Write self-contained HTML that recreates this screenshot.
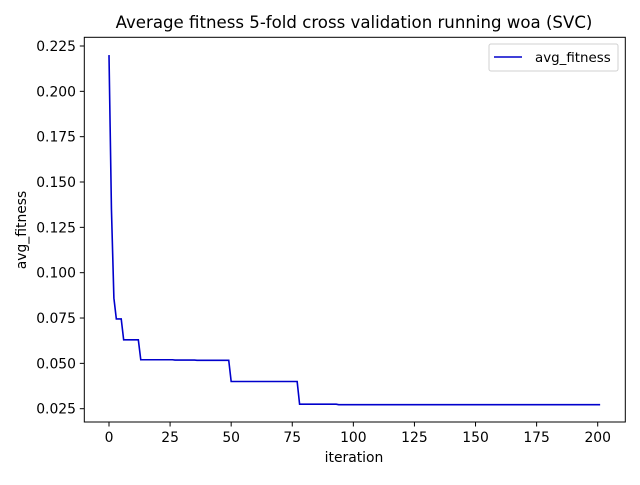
<!DOCTYPE html>
<html><head><meta charset="utf-8"><style>
body{margin:0;background:#fff}
svg{font-family:"DejaVu Sans","Liberation Sans",sans-serif}
</style></head><body>
<svg id="chart" width="640" height="480" viewBox="0 0 640 480">
<rect width="640" height="480" fill="#fff"/>
<text x="354" y="28" font-size="16.6" text-anchor="middle" fill="#000">Average fitness 5-fold cross validation running woa (SVC)</text>
<g id="xticks"></g>
<g id="yticks"></g>
<path id="line" fill="none" stroke="#0000cc" stroke-width="1.6"/>
<rect x="84.3" y="37.3" width="541" height="384.7" fill="none" stroke="#000" stroke-width="1"/>
<text x="354" y="462" font-size="13.9" text-anchor="middle">iteration</text>
<text transform="translate(26,230) rotate(-90)" font-size="13.9" text-anchor="middle">avg_fitness</text>
<g>
<rect x="489" y="44" width="129" height="27" rx="2" fill="#fff" stroke="#d0d0d0"/>
<line x1="494" y1="57" x2="522" y2="57" stroke="#0000cc" stroke-width="1.6"/>
<text x="535" y="62" font-size="13.4">avg_fitness</text>
</g>
</svg>
<script>
const xTickValues=[0,25,50,75,100,125,150,175,200];
const yTickValues=[0.025,0.050,0.075,0.100,0.125,0.150,0.175,0.200,0.225];
const yTickLabels=["0.025","0.050","0.075","0.100","0.125","0.150","0.175","0.200","0.225"];
const stepValues=[0.22,0.135,0.086,0.0745,0.063,0.052,0.0518,0.0517,0.040,0.0275,0.0272];
const stepLengths=[1,1,1,3,7,14,9,14,28,16,108];
function sx(v){return 109+v*2.4435;}
function sy(v){return 46+(0.225-v)*1813.5;}
const ns="http://www.w3.org/2000/svg";
const xg=document.getElementById('xticks'),yg=document.getElementById('yticks');
xTickValues.forEach(v=>{
 const l=document.createElementNS(ns,'line');
 l.setAttribute('x1',sx(v));l.setAttribute('x2',sx(v));l.setAttribute('y1',422);l.setAttribute('y2',426.5);l.setAttribute('stroke','#000');
 
 
 xg.appendChild(l);
 const t=document.createElementNS(ns,'text');
 t.setAttribute('x',sx(v));t.setAttribute('y',442);t.setAttribute('font-size','13.9');t.setAttribute('text-anchor','middle');t.textContent=v;
 
 
 xg.appendChild(t);
});
yTickValues.forEach((v,i)=>{
 const l=document.createElementNS(ns,'line');
 l.setAttribute('x1',79.8);l.setAttribute('x2',84.3);l.setAttribute('y1',sy(v));l.setAttribute('y2',sy(v));l.setAttribute('stroke','#000');
 
 
 yg.appendChild(l);
 const t=document.createElementNS(ns,'text');
 t.setAttribute('x',76);t.setAttribute('y',sy(v)+5);t.setAttribute('font-size','13.9');t.setAttribute('text-anchor','end');t.textContent=yTickLabels[i];
 
 
 yg.appendChild(t);
});
const pts=[];let idx=0;
stepValues.forEach((v,i)=>{for(let k=0;k<stepLengths[i];k++){pts.push([idx,v]);idx++;}});
document.getElementById('line').setAttribute('d',pts.map((p,i)=>(i?'L':'M')+sx(p[0]).toFixed(2)+','+sy(p[1]).toFixed(2)).join(''));
</script>
</body></html>
